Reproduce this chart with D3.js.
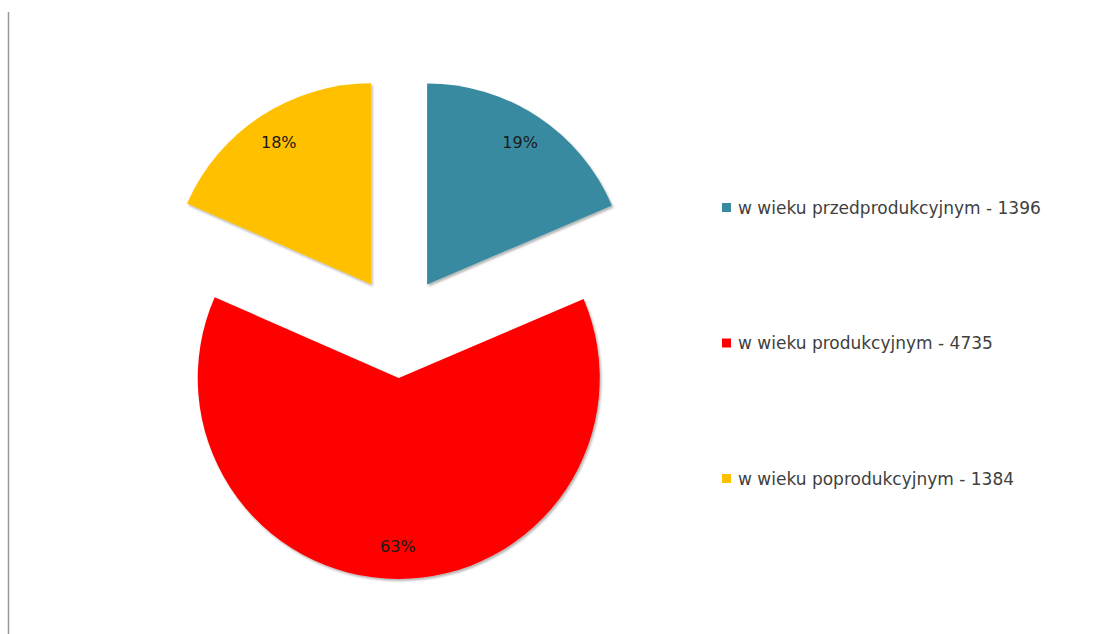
<!DOCTYPE html>
<head>
  <meta charset="utf-8">
  <title>Ludność według wieku</title>
  <style>
    body { margin: 0; background: #fff; }
    svg { display: block; font-family: "DejaVu Sans", sans-serif; }
  </style>
</head>
<body>
  <svg width="1113" height="634"></svg>
<script src="https://d3js.org/d3.v7.min.js"></script>
<script>

// data
var categories = ["w wieku przedprodukcyjnym", "w wieku produkcyjnym", "w wieku poprodukcyjnym"];
var values = [1396, 4735, 1384];
var colors = ["#378aa0", "#ff0000", "#ffc000"];

var svg = d3.select("svg"),
    width = +svg.attr("width"),
    height = +svg.attr("height");

var cx = 399, cy = 327,
    radius = 201,
    explode = 51;

var total = d3.sum(values);

var pie = d3.pie().sort(null).value(function(d) { return d; });
var arcs = pie(values);

var arc = d3.arc().innerRadius(0).outerRadius(radius);

// soft shadow like the spreadsheet default
var defs = svg.append("defs");
var f = defs.append("filter").attr("id", "shadow")
    .attr("x", "-10%").attr("y", "-10%").attr("width", "130%").attr("height", "130%");
f.append("feDropShadow")
    .attr("dx", 1.5).attr("dy", 2)
    .attr("stdDeviation", 1.2)
    .attr("flood-color", "#000").attr("flood-opacity", 0.3);

// left frame edge
svg.append("line")
    .attr("x1", 8.5).attr("x2", 8.5)
    .attr("y1", 12).attr("y2", height)
    .attr("stroke", "#999").attr("stroke-width", 1.5);

function offset(d) {
  var a = (d.startAngle + d.endAngle) / 2;
  return [Math.sin(a) * explode, -Math.cos(a) * explode];
}

var slices = svg.append("g")
    .attr("transform", "translate(" + cx + "," + cy + ")")
  .selectAll("g")
  .data(arcs)
  .enter().append("g")
    .attr("transform", function(d) { var o = offset(d); return "translate(" + o[0] + "," + o[1] + ")"; });

slices.append("path")
    .attr("d", arc)
    .attr("fill", function(d, i) { return colors[i]; })
    .attr("filter", "url(#shadow)");

var labelArc = d3.arc().innerRadius(radius * 0.84).outerRadius(radius * 0.84);

slices.append("text")
    .attr("transform", function(d) { return "translate(" + labelArc.centroid(d) + ")"; })
    .attr("text-anchor", "middle")
    .attr("dy", "0.3em")
    .attr("font-size", 16)
    .attr("fill", "#1a1a1a")
    .text(function(d) { return Math.round(d.value / total * 100) + "%"; });

// legend
var legendY = d3.scalePoint().domain(categories).range([208, 479]);

var legend = svg.append("g")
  .selectAll("g")
  .data(categories)
  .enter().append("g")
    .attr("transform", function(d) { return "translate(722," + legendY(d) + ")"; });

legend.append("rect")
    .attr("x", 0).attr("y", -5)
    .attr("width", 9).attr("height", 9)
    .attr("fill", function(d, i) { return colors[i]; });

legend.append("text")
    .attr("x", 16)
    .attr("dy", "0.35em")
    .attr("font-size", 17)
    .attr("fill", "#404040")
    .text(function(d, i) { return d + " - " + values[i]; });

</script>
</html>
